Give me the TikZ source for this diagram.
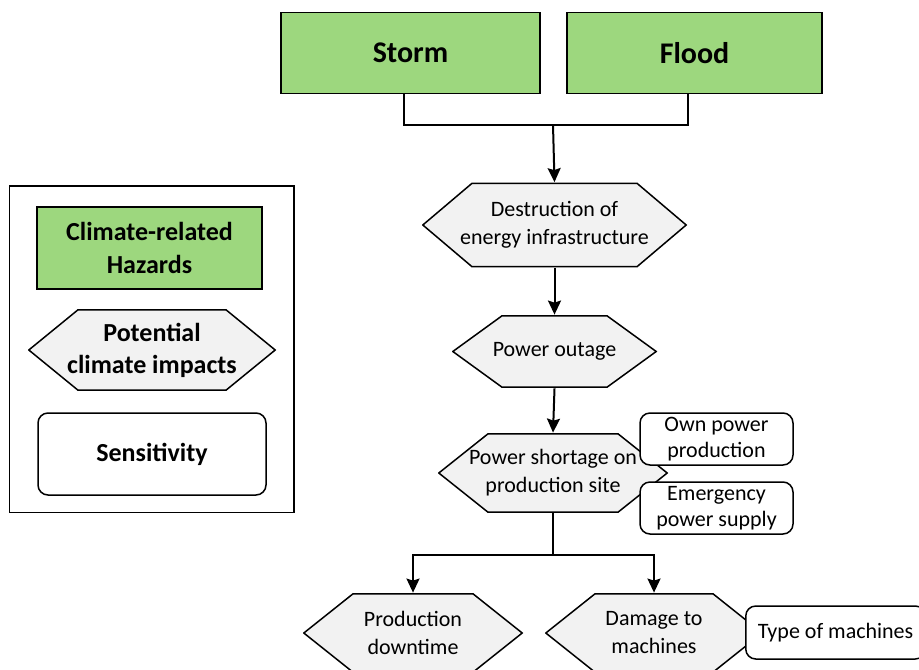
\documentclass[tikz,border=0pt]{standalone}
\usepackage{fontspec}
\setmainfont{Carlito}
\usetikzlibrary{arrows.meta}
\definecolor{hazardgreen}{RGB}{157,215,126}
\definecolor{impactgrey}{RGB}{242,242,242}
\tikzset{
	hazard/.style = {draw, line width=0.75pt, fill=hazardgreen, inner sep=0pt, align=center, font=\bfseries},
	impact/.style = {rectangle, inner sep=0pt, align=center, font=\fontsize{11}{14}\selectfont,
		path picture={\draw[line width=0.75pt, fill=impactgrey]
			([xshift=0.4pt]path picture bounding box.west)
			-- ([xshift=25pt, yshift=-0.4pt]path picture bounding box.north west)
			-- ([xshift=-25pt, yshift=-0.4pt]path picture bounding box.north east)
			-- ([xshift=-0.4pt]path picture bounding box.east)
			-- ([xshift=-25pt, yshift=0.4pt]path picture bounding box.south east)
			-- ([xshift=25pt, yshift=0.4pt]path picture bounding box.south west)
			-- cycle;}},
	sensitivity/.style = {draw, line width=0.75pt, rounded corners=5pt, fill=white, inner sep=0pt, align=center, font=\fontsize{11}{13}\selectfont},
	link/.style = {line width=1pt},
	tip/.style = {-{Stealth[length=7pt, width=6.5pt, inset=1pt]}},
}

\begin{document}
\begin{tikzpicture}[x=0.5pt, y=-0.5pt]
		\useasboundingbox (0,0) rectangle (919,669);
		% hazards
		\node[hazard, minimum width=129.5pt, minimum height=40.5pt, font=\fontsize{15}{18}\bfseries] at (410.5,53) (storm) {Storm};
		\node[hazard, minimum width=127.5pt, minimum height=40.5pt, font=\fontsize{15}{18}\bfseries] at (694.5,53) (flood) {Flood};
		% impact chain
		\node[impact, minimum width=132.5pt, minimum height=42.5pt] at (554.5,225) (destruct) {Destruction of\\energy infrastructure};
		\node[impact, minimum width=102.5pt, minimum height=36.5pt] at (554.5,351.5) (outage) {Power outage};
		\node[impact, minimum width=115pt, minimum height=40pt] at (553,473) (shortage) {Power shortage on\\production site};
		\node[impact, minimum width=110pt, minimum height=40pt] at (413,633) (downtime) {Production\\downtime};
		\node[impact, minimum width=109pt, minimum height=40pt] at (654,633) (damage) {Damage to\\machines};
		% sensitivities
		\node[sensitivity, minimum width=76.5pt, minimum height=26pt] at (716.5,439) (ownpower) {Own power\\production};
		\node[sensitivity, minimum width=76.5pt, minimum height=26pt] at (716.5,508) (emergency) {Emergency\\power supply};
		\node[sensitivity, minimum height=26.5pt, inner xsep=6pt, anchor=west] at (745,632.5) (machines) {Type of machines};
		% connectors
		\coordinate (join) at (553,125);
		\draw[link] ([xshift=-3.25pt]storm.south) |- (join) -| ([xshift=-3.25pt]flood.south);
		\draw[link, tip] (join) -- (destruct.north);
		\draw[link, tip] (destruct.south) -- (outage.north);
		\draw[link, tip] (outage.south) -- (shortage.north);
		\coordinate (split) at (553,555);
		\draw[link] (shortage.south) -- (split);
		\draw[link, tip] (split) -| (downtime.north);
		\draw[link, tip] (split) -| (damage.north);
		% legend
		\draw[line width=0.75pt] (9.5,186) rectangle (294,512.5);
		\node[hazard, minimum width=112.5pt, minimum height=41pt, font=\fontsize{13}{16.5}\bfseries] at (149.5,248) (leghazard) {Climate-related\\Hazards};
		\node[impact, minimum width=124pt, minimum height=41pt, font=\fontsize{13}{16}\bfseries] at (152,350) (legimpact) {Potential\\climate impacts};
		\node[sensitivity, minimum width=114pt, minimum height=41pt, font=\fontsize{13}{16}\bfseries] at (152,454) (legsens) {Sensitivity};
\end{tikzpicture}
\end{document}
